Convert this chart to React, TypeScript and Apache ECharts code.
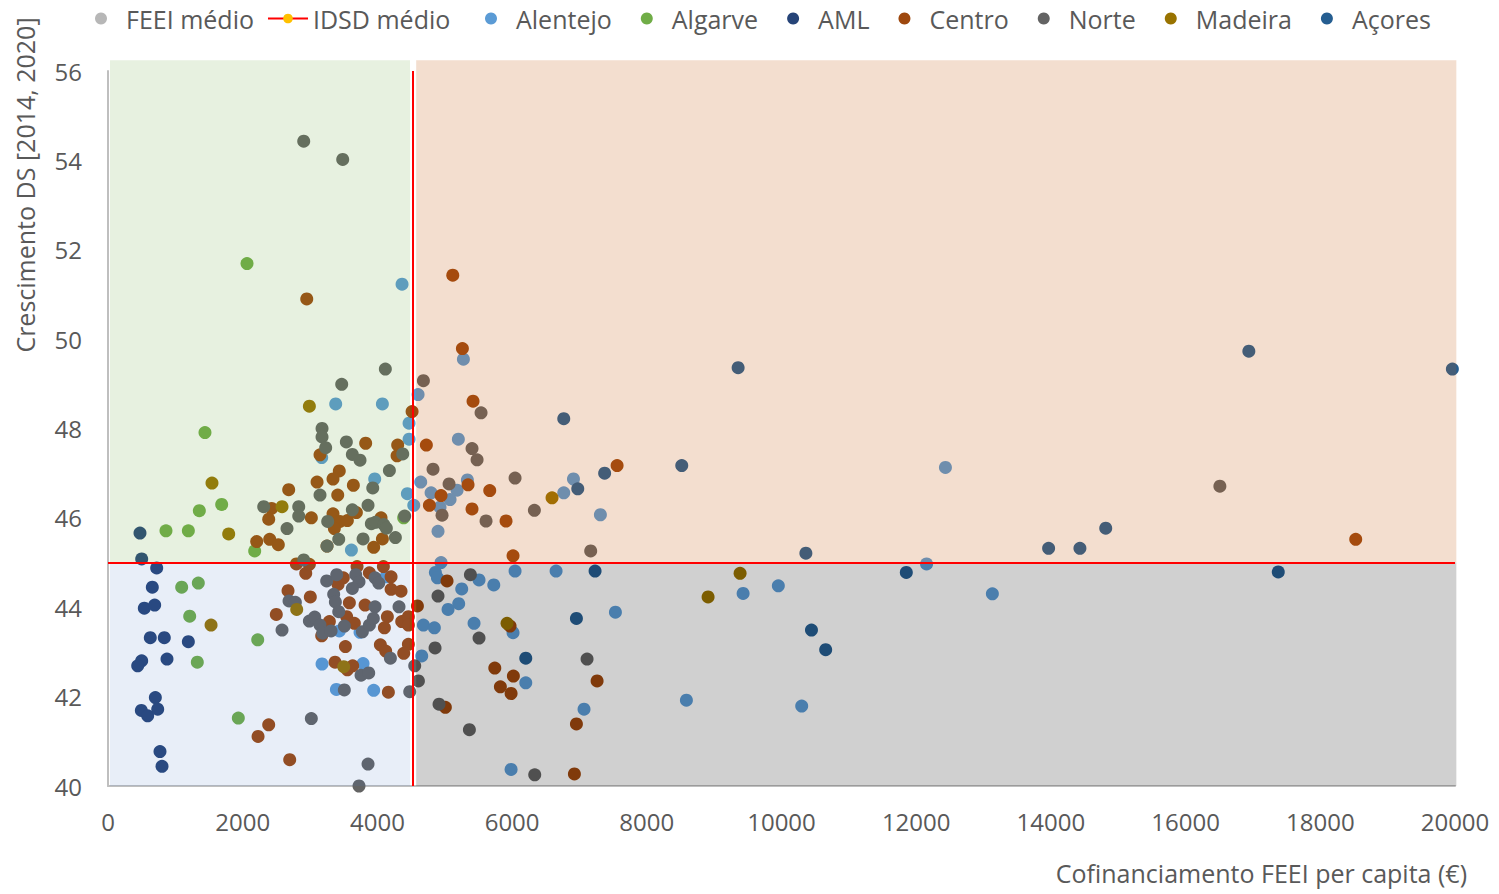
import React, { useEffect, useRef } from "react";
import * as echarts from "echarts";

// ---- data ----
const X_TICKS = [0, 2000, 4000, 6000, 8000, 10000, 12000, 14000, 16000, 18000, 20000];
const FEEI_MEDIO = 4530;
const IDSD_MEDIO = 45;

const alentejo = [
  [4366, 51.23], [5277, 49.55], [4604, 48.76], [3381, 48.55], [4074, 48.55], [4470, 48.12], [4470, 47.76],
  [5202, 47.76], [3173, 47.35], [3960, 46.87], [4643, 46.8], [5336, 46.85], [4797, 46.56], [5183, 46.62],
  [5079, 46.41], [4930, 46.24], [4540, 46.28], [4445, 46.54], [4900, 45.7], [3614, 45.28], [4945, 45.0],
  [6767, 46.56], [6911, 46.87], [7311, 46.07], [12434, 47.13], [12154, 44.97], [9953, 44.48], [9430, 44.31],
  [13131, 44.3], [10300, 41.79], [4128, 44.68], [3178, 42.73], [3787, 42.74], [3391, 42.16], [3945, 42.14],
  [3435, 43.47], [3742, 43.44], [4683, 43.6], [4658, 42.91], [4861, 44.78], [4891, 44.66], [5509, 44.61],
  [5728, 44.5], [6044, 44.81], [6653, 44.81], [7534, 43.89], [5252, 44.41], [5207, 44.08], [5049, 43.95],
  [4846, 43.54], [5435, 43.64], [6014, 43.43], [6203, 42.31], [8588, 41.92], [7068, 41.72], [5985, 40.37],
];

const algarve = [
  [2064, 51.69], [1440, 47.91], [1688, 46.3], [1356, 46.16], [861, 45.71], [1193, 45.71], [2178, 45.26],
  [1094, 44.45], [1341, 44.54], [1213, 43.8], [2223, 43.27], [1326, 42.77], [1935, 41.52], [4390, 46.0],
];

const aml = [
  [475, 45.66], [500, 45.08], [723, 44.88], [658, 44.45], [539, 43.98], [693, 44.05], [628, 43.32],
  [836, 43.32], [1193, 43.23], [876, 42.84], [500, 42.8], [441, 42.69], [703, 41.98], [495, 41.69],
  [589, 41.57], [738, 41.72], [772, 40.77], [802, 40.44],
];

const centro = [
  [2951, 50.9], [5119, 51.43], [5262, 49.79], [4515, 48.38], [5420, 48.61], [4727, 47.63], [5346, 46.74],
  [4945, 46.5], [5668, 46.61], [4772, 46.28], [5405, 46.2], [5910, 45.93], [7559, 47.17], [6014, 45.15],
  [18526, 45.52], [3148, 47.41], [3826, 47.67], [4301, 47.63], [4292, 47.39], [3434, 47.05], [3341, 46.87],
  [3104, 46.8], [2683, 46.63], [3643, 46.73], [3411, 46.51], [2429, 46.21], [2386, 45.97], [3019, 46.0],
  [3341, 46.09], [3445, 45.92], [3361, 45.76], [3554, 45.94], [3688, 46.12], [4054, 46.0], [4074, 45.53],
  [3945, 45.34], [3252, 45.37], [2208, 45.47], [2401, 45.52], [2529, 45.4], [2673, 44.37], [2499, 43.84],
  [3004, 44.23], [2386, 41.37], [2228, 41.11], [2698, 40.59], [2797, 44.97], [2936, 44.76], [2990, 44.96],
  [3416, 44.51], [3494, 44.66], [3881, 44.77], [4089, 44.91], [4203, 44.68], [4203, 44.4], [4351, 44.36],
  [3698, 44.91], [3584, 44.1], [3817, 44.05], [4148, 43.79], [4104, 43.54], [4361, 43.68], [4460, 43.79],
  [4460, 43.6], [4594, 44.03], [3525, 43.12], [4044, 43.16], [4123, 43.02], [4460, 43.17], [4391, 42.97],
  [3173, 43.36], [3287, 43.68], [3544, 43.79], [3658, 43.64], [3371, 42.77], [3554, 42.6], [3633, 42.69],
  [4163, 42.1], [5034, 44.59], [5970, 43.58], [5743, 42.64], [6019, 42.46], [7262, 42.35], [5826, 42.22],
  [5985, 42.07], [5009, 41.76], [6955, 41.39], [6925, 40.27],
];

const norte = [
  [2906, 54.43], [3485, 54.02], [4118, 49.33], [3470, 48.99], [3178, 48.0], [3178, 47.81], [3232, 47.57],
  [3539, 47.7], [3628, 47.42], [3742, 47.29], [4376, 47.43], [4178, 47.06], [3931, 46.67], [3148, 46.51],
  [2312, 46.25], [2832, 46.25], [2832, 46.04], [2658, 45.76], [3262, 45.92], [3628, 46.18], [3861, 46.28],
  [3910, 45.87], [3970, 45.9], [4094, 45.85], [4133, 45.77], [4267, 45.56], [3787, 45.53], [3426, 45.52],
  [3252, 45.37], [2906, 45.06], [4405, 46.04], [4683, 49.07], [5539, 48.35], [5405, 47.55], [5480, 47.3],
  [4826, 47.09], [5064, 46.76], [6044, 46.89], [4960, 46.06], [5613, 45.93], [6331, 46.17], [7167, 45.26],
  [16509, 46.71], [3247, 44.59], [3396, 44.73], [3678, 44.73], [3727, 44.57], [3628, 44.42], [3965, 44.66],
  [4020, 44.54], [2688, 44.14], [2782, 44.11], [3351, 44.29], [3376, 44.12], [3426, 43.9], [3965, 44.01],
  [4321, 44.01], [2990, 43.69], [3069, 43.78], [3148, 43.6], [3188, 43.42], [3312, 43.47], [3510, 43.58],
  [3777, 43.45], [3881, 43.6], [3940, 43.75], [2584, 43.49], [4193, 42.86], [3757, 42.48], [3871, 42.53],
  [3509, 42.15], [4480, 42.11], [3019, 41.51], [3861, 40.49], [3727, 40.0], [4554, 42.69], [4609, 42.35],
  [5381, 44.73], [4900, 44.25], [5509, 43.31], [4856, 43.09], [7113, 42.84], [4915, 41.83], [5366, 41.26],
  [6336, 40.25],
];

const madeira = [
  [2990, 48.5], [1544, 46.78], [2584, 46.25], [1792, 45.64], [1530, 43.6], [2802, 43.95], [3500, 42.67],
  [6593, 46.45], [9385, 44.76], [8910, 44.23], [5925, 43.64],
];

const acores = [
  [9356, 49.36], [16939, 49.73], [19961, 49.33], [14814, 45.77], [13966, 45.32], [14431, 45.32],
  [10362, 45.21], [11853, 44.78], [17376, 44.79], [10445, 43.49], [10656, 43.05], [6767, 48.22],
  [6975, 46.65], [7374, 47.0], [8519, 47.17], [7232, 44.81], [6955, 43.75], [6203, 42.86],
];

const REGIONS = [
  { name: "Alentejo", data: alentejo, color: "#5B9BD5" },
  { name: "Algarve", data: algarve, color: "#70AD47" },
  { name: "AML", data: aml, color: "#264478" },
  { name: "Centro", data: centro, color: "#9E480E" },
  { name: "Norte", data: norte, color: "#636363" },
  { name: "Madeira", data: madeira, color: "#997300" },
  { name: "Açores", data: acores, color: "#255E91" },
];

const FONT = "'Open Sans', 'Noto Sans', sans-serif";
const TXT = "#595959";

export default function App() {
  const ref = useRef<HTMLDivElement>(null);
  useEffect(() => {
    if (!ref.current) return;
    const chart = echarts.init(ref.current, undefined, { renderer: "svg" });
    const GAP = 46;
    const TOP = 56.24;
    // quadrant overlays: [x0, x1, y0, y1]
    const quads = [
      [30, FEEI_MEDIO - GAP, IDSD_MEDIO, TOP],
      [FEEI_MEDIO + GAP, 20020, IDSD_MEDIO, TOP],
      [30, FEEI_MEDIO - GAP, 40, IDSD_MEDIO],
      [FEEI_MEDIO + GAP, 20020, 40, IDSD_MEDIO],
    ];
    const quadColors = [
      "rgba(112,173,71,0.17)",
      "rgba(197,90,17,0.2)",
      "rgba(68,114,196,0.12)",
      "rgba(0,0,0,0.185)",
    ];
    const legendBase = {
      top: 1,
      itemWidth: 40,
      itemHeight: 12,
      textStyle: { fontSize: 25, color: TXT, fontFamily: FONT },
    };
    const option: any = {
      animation: false,
      backgroundColor: "#ffffff",
      textStyle: { fontFamily: FONT },
      grid: { left: 108, right: 44, top: 71, bottom: 108, containLabel: false },
      legend: [
        {
          ...legendBase,
          left: 90,
          itemGap: 13,
          data: [
            { name: "FEEI médio", icon: "circle", itemStyle: { color: "#A5A5A5" } },
            { name: "IDSD médio" },
          ],
        },
        {
          ...legendBase,
          left: 480,
          itemGap: 29,
          data: REGIONS.map((r) => ({ name: r.name, icon: "circle" })),
        },
      ],
      xAxis: {
        type: "value",
        min: X_TICKS[0],
        max: X_TICKS[X_TICKS.length - 1],
        interval: 2000,
        axisLine: { show: true, lineStyle: { color: "#BFBFBF", width: 2 } },
        axisTick: { show: false },
        splitLine: { show: false },
        axisLabel: {
          fontSize: 24,
          color: TXT,
          margin: 23,
          fontFamily: FONT,
          formatter: (v: number) => String(v),
        },
      },
      yAxis: {
        type: "value",
        min: 40,
        max: 56,
        interval: 2,
        axisLine: { show: true, lineStyle: { color: "#BFBFBF", width: 2 } },
        axisTick: { show: false },
        splitLine: { show: false },
        axisLabel: { fontSize: 24, color: TXT, margin: 26, fontFamily: FONT },
      },
      graphic: [
        {
          type: "text",
          right: 32,
          top: 860,
          style: { text: "Cofinanciamento FEEI per capita (€)", fontSize: 25, fill: TXT, fontFamily: FONT },
        },
        {
          type: "text",
          x: 25,
          y: 185,
          rotation: Math.PI / 2,
          style: {
            text: "Crescimento DS [2014, 2020]",
            fontSize: 25,
            fill: TXT,
            fontFamily: FONT,
            textAlign: "center",
            textVerticalAlign: "middle",
          },
        },
      ],
      series: [
        ...REGIONS.map((r) => ({
          name: r.name,
          type: "scatter",
          data: r.data,
          symbol: "circle",
          symbolSize: 13,
          itemStyle: { color: r.color, opacity: 1 },
          z: 2,
        })),
        {
          name: "quadrants",
          type: "custom",
          z: 3,
          silent: true,
          clip: false,
          data: quads,
          encode: { x: [0, 1], y: [2, 3] },
          renderItem: (params: any, api: any) => {
            const p0 = api.coord([api.value(0), api.value(3)]);
            const p1 = api.coord([api.value(1), api.value(2)]);
            return {
              type: "rect",
              shape: { x: p0[0], y: p0[1], width: p1[0] - p0[0], height: p1[1] - p0[1] },
              style: { fill: quadColors[params.dataIndex] },
              silent: true,
            };
          },
        },
        {
          name: "FEEI médio",
          type: "scatter",
          data: [],
          itemStyle: { color: "#A5A5A5" },
          z: 10,
          markLine: {
            silent: true,
            symbol: ["none", "none"],
            label: { show: false },
            lineStyle: { color: "#FF0000", width: 2, type: "solid" },
            data: [{ xAxis: FEEI_MEDIO }],
            z: 10,
          },
        },
        {
          name: "IDSD médio",
          type: "line",
          data: [],
          symbol: "circle",
          itemStyle: { color: "#FFC000" },
          lineStyle: { color: "#FF0000", width: 2 },
          z: 10,
          markLine: {
            silent: true,
            symbol: ["none", "none"],
            label: { show: false },
            lineStyle: { color: "#FF0000", width: 2, type: "solid" },
            data: [{ yAxis: IDSD_MEDIO }],
            z: 10,
          },
        },
      ],
    };
    chart.setOption(option);
    return () => chart.dispose();
  }, []);
  return (
    <div
      ref={ref}
      style={{ position: "fixed", left: 0, top: 0, width: 1499, height: 894, background: "#fff" }}
    />
  );
}
